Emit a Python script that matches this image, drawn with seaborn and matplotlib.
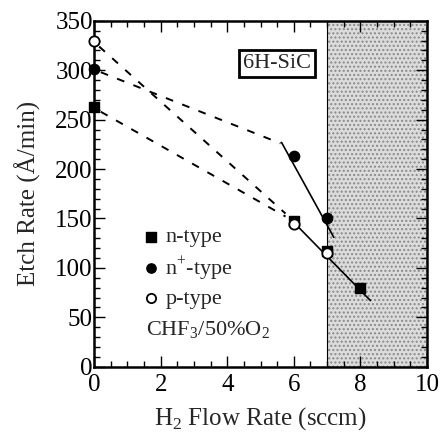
import matplotlib
matplotlib.use("Agg")
import matplotlib.pyplot as plt
from matplotlib.ticker import MultipleLocator
import seaborn as sns
import pandas as pd

sns.set_theme(style="ticks")
plt.rcParams["font.family"] = ["Liberation Serif", "DejaVu Serif"]
plt.rcParams["mathtext.fontset"] = "custom"
plt.rcParams["mathtext.rm"] = "Liberation Serif"

# Measured etch rates (Å/min) vs H2 flow (sccm)
n_flow = [0, 6, 7, 8]
n_rate = [263, 147, 117, 80]
nplus_flow = [0, 6, 7]
nplus_rate = [301, 213, 150]
p_flow = [0, 6, 7]
p_rate = [330, 144, 115]

# Guide lines (dashed extrapolations and solid trend lines)
dash_p_x = [0.15, 5.75]
dash_p_y = [324, 155]
dash_n_x = [0.2, 5.75]
dash_n_y = [258, 152]
dash_np_x = [0.2, 5.6]
dash_np_y = [298, 226]
solid_np_x = [5.63, 7.2]
solid_np_y = [227, 131]
solid_n_x = [6.0, 8.3]
solid_n_y = [146, 67]

shade_start = 7.0
shade_end = 10.0

fig, ax = plt.subplots(figsize=(4.42, 4.34), dpi=100)
fig.subplots_adjust(left=0.213, right=0.966, top=0.952, bottom=0.155)

ax.axvspan(shade_start, shade_end, facecolor="#dcdcdc", edgecolor="#8a8a8a",
           hatch="....", linewidth=0, zorder=0)
ax.axvline(shade_start, color="black", lw=0.8, zorder=1)

for xs, ys in [(dash_p_x, dash_p_y), (dash_n_x, dash_n_y), (dash_np_x, dash_np_y)]:
    ax.plot(xs, ys, color="black", lw=1.4, dashes=(4, 5), zorder=2)
for xs, ys in [(solid_np_x, solid_np_y), (solid_n_x, solid_n_y)]:
    ax.plot(xs, ys, color="black", lw=1.2, zorder=2)

df_n = pd.DataFrame({"flow": n_flow, "rate": n_rate})
df_np = pd.DataFrame({"flow": nplus_flow, "rate": nplus_rate})
df_p = pd.DataFrame({"flow": p_flow, "rate": p_rate})

sns.scatterplot(data=df_n, x="flow", y="rate", marker="s", s=60, color="black",
                edgecolor="black", linewidth=1, ax=ax, label="n-type", zorder=4, clip_on=False)
sns.scatterplot(data=df_np, x="flow", y="rate", marker="o", s=55, color="black",
                edgecolor="black", linewidth=1, ax=ax, label="n$^{+}$-type", zorder=4, clip_on=False)
sns.scatterplot(data=df_p, x="flow", y="rate", marker="o", s=55, color="white",
                edgecolor="black", linewidth=1.3, ax=ax, label="p-type", zorder=5, clip_on=False)

leg = ax.legend(loc="upper left", bbox_to_anchor=(0.11, 0.43), frameon=False,
                fontsize=16, handletextpad=0.15, labelspacing=0.3, borderaxespad=0,
                handlelength=1.0, markerscale=0.9)

ax.text(1.55, 37, "CHF$_3$/50%O$_2$", fontsize=16, ha="left", va="center")
ax.text(5.5, 307, "6H-SiC", fontsize=16, ha="center", va="center",
        bbox=dict(boxstyle="square,pad=0.18", facecolor="white", edgecolor="black", lw=2))

ax.set_xlim(0, 10)
ax.set_ylim(0, 350)
ax.xaxis.set_major_locator(MultipleLocator(2))
ax.xaxis.set_minor_locator(MultipleLocator(0.5))
ax.yaxis.set_major_locator(MultipleLocator(50))
ax.yaxis.set_minor_locator(MultipleLocator(10))
ax.tick_params(which="both", direction="in", top=True, right=True, colors="black")
ax.tick_params(which="major", length=8, width=1, labelsize=18)
ax.tick_params(axis="y", which="major", pad=1)
ax.tick_params(axis="x", which="major", pad=5)
ax.tick_params(which="minor", length=4, width=1)
for sp in ax.spines.values():
    sp.set_linewidth(1.8)
    sp.set_color("black")

ax.set_xlabel("H$_2$ Flow Rate (sccm)", fontsize=18, labelpad=7)
ax.set_ylabel("Etch Rate (Å/min)", fontsize=18, labelpad=10)

fig.savefig("out.png", dpi=100, facecolor="white")
